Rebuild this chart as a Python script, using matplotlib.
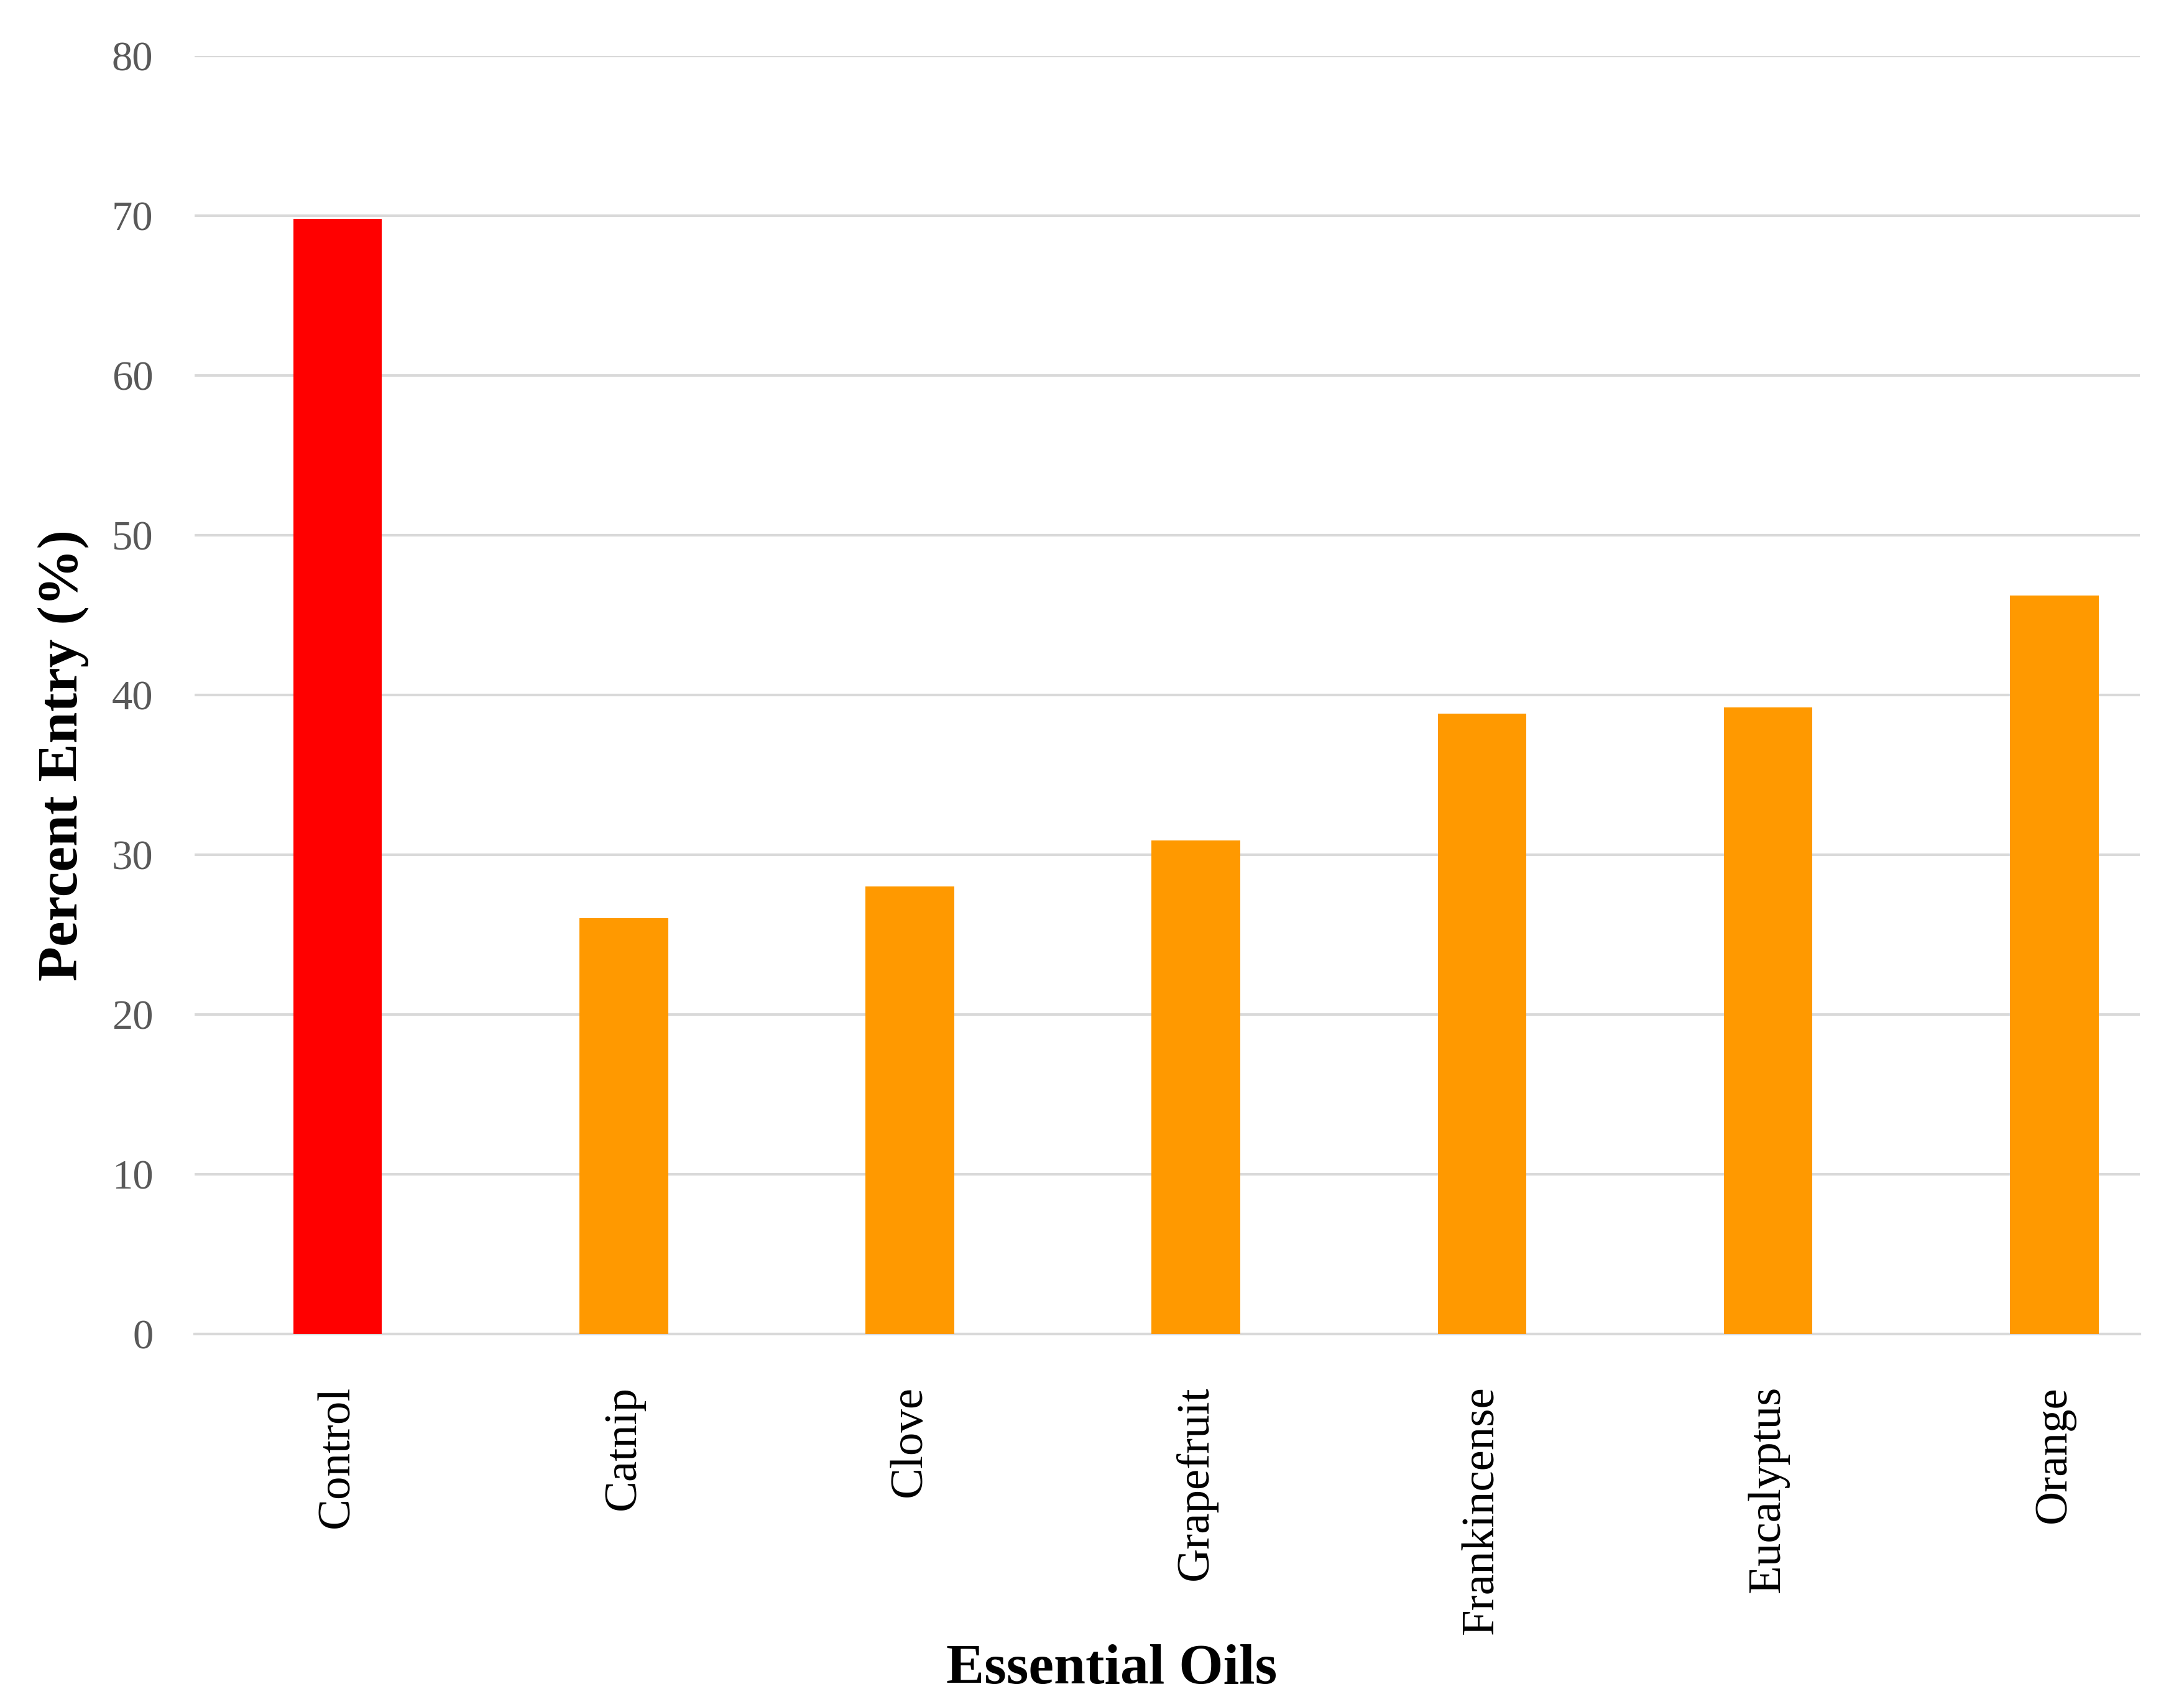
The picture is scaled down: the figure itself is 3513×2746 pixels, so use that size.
import matplotlib.pyplot as plt
import numpy as np

oils = ["Control", "Catnip", "Clove", "Grapefruit", "Frankincense", "Eucalyptus", "Orange"]
percent_entry = [69.8, 26.0, 28.0, 30.9, 38.8, 39.2, 46.2]
bar_colors = ["#FF0000", "#FF9900", "#FF9900", "#FF9900", "#FF9900", "#FF9900", "#FF9900"]

plt.rcParams['font.family'] = ['Liberation Serif', 'DejaVu Serif']

fig = plt.figure(figsize=(3513 / 300, 2746 / 300), dpi=300)
ax = fig.add_axes([0.0891, 0.2186, 0.8908, 0.7488])

x = np.arange(len(oils))
ax.bar(x, percent_entry, width=0.31, color=bar_colors, zorder=3)

ax.set_ylim(0, 80)
ax.set_yticks(range(0, 81, 10))
ax.set_xlim(-0.5, 6.3)
ax.set_xticks(x)
ax.set_xticklabels(oils, rotation=90, fontsize=18, color="black")
ax.tick_params(axis='y', labelsize=16, labelcolor="#595959", length=0, pad=16)
ax.tick_params(axis='x', length=0, pad=20)

ax.grid(axis='y', color="#D9D9D9", linewidth=1.0, zorder=0)
for s in ["top", "right", "left"]:
    ax.spines[s].set_visible(False)
ax.spines["bottom"].set_color("#D9D9D9")
ax.spines["bottom"].set_linewidth(1.0)

fig.text(0.0288, 0.5577, "Percent Entry (%)", rotation=90, fontsize=22,
         fontweight="bold", ha="center", va="center")
fig.text(0.509, 0.022, "Essential Oils", fontsize=22, fontweight="bold",
         ha="center", va="center")

fig.savefig("out.png", dpi=300)
